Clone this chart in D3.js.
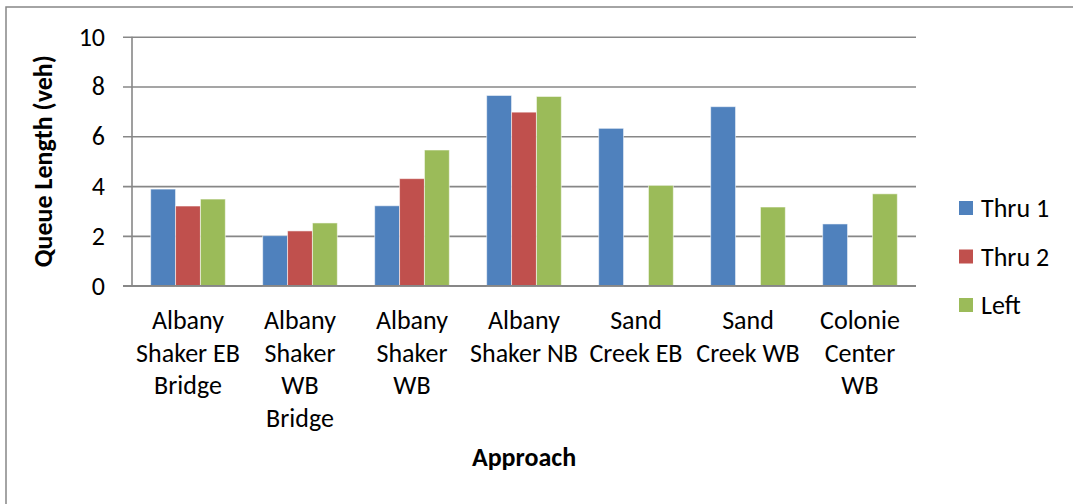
<!DOCTYPE html>
<html>
<head>
<meta charset="utf-8">
<script src="https://cdn.jsdelivr.net/npm/d3@7/dist/d3.min.js"></script>
<style>
  html, body { margin: 0; padding: 0; background: #fff; }
  svg { display: block; }
  text { font-family: Carlito, Calibri, Lato, sans-serif; fill: #000; }
</style>
</head>
<body>
<svg id="chart" width="1073" height="504"></svg>
<script>
// Queue length by approach and lane group
const approaches = [
  ["Albany", "Shaker EB", "Bridge"],
  ["Albany", "Shaker", "WB", "Bridge"],
  ["Albany", "Shaker", "WB"],
  ["Albany", "Shaker NB"],
  ["Sand", "Creek EB"],
  ["Sand", "Creek WB"],
  ["Colonie", "Center", "WB"]
];
const seriesNames = ["Thru 1", "Thru 2", "Left"];
const thru1 = [3.88, 2.01, 3.21, 7.64, 6.32, 7.19, 2.48];
const thru2 = [3.20, 2.20, 4.30, 6.97, null, null, null];
const left  = [3.48, 2.52, 5.45, 7.60, 4.03, 3.16, 3.69];
const seriesColors = ["#4f81bd", "#c0504d", "#9bbb59"];
const yTicks = [0, 2, 4, 6, 8, 10];

const series = [thru1, thru2, left];

const svg = d3.select("#chart");
const plot = { left: 132, right: 916, top: 36.7, bottom: 285.7 };
const gridColor = "#878787";
const fontSize = 26;

// outer chart frame
svg.append("rect")
  .attr("x", 6).attr("y", 7)
  .attr("width", 1200).attr("height", 700)
  .attr("fill", "none").attr("stroke", gridColor).attr("stroke-width", 1.5);

const x = d3.scaleBand()
  .domain(d3.range(approaches.length))
  .range([plot.left, plot.right])
  .paddingInner(0).paddingOuter(0);

const bandPad = x.bandwidth() * (1.5 / 4.5) / 2;
const xs = d3.scaleBand()
  .domain(d3.range(series.length))
  .range([bandPad, x.bandwidth() - bandPad]);

const y = d3.scaleLinear().domain([0, 10]).range([plot.bottom, plot.top]);

// horizontal gridlines with outside ticks
const yAxis = d3.axisLeft(y)
  .tickValues(yTicks)
  .tickSize(-(plot.right - plot.left))
  .tickSizeOuter(0)
  .tickPadding(27)
  .tickFormat(d3.format("d"));

const gy = svg.append("g")
  .attr("transform", `translate(${plot.left},0)`)
  .call(yAxis);
gy.select(".domain").remove();
gy.selectAll(".tick line")
  .attr("x1", -9)
  .attr("stroke", gridColor).attr("stroke-width", 1.6);
gy.selectAll(".tick text")
  .attr("font-size", fontSize)
  .attr("fill", "#000")
  .style("font-family", "Carlito, Calibri, Lato, sans-serif");

// vertical axis line
svg.append("line")
  .attr("x1", plot.left).attr("x2", plot.left)
  .attr("y1", plot.top).attr("y2", plot.bottom)
  .attr("stroke", gridColor).attr("stroke-width", 1.6);

// bars
series.forEach((vals, si) => {
  svg.append("g").selectAll("rect")
    .data(vals.map((v, i) => ({ v, i })).filter(d => d.v !== null))
    .join("rect")
    .attr("x", d => x(d.i) + xs(si))
    .attr("y", d => y(d.v))
    .attr("width", xs.bandwidth())
    .attr("height", d => y(0) - y(d.v))
    .attr("fill", seriesColors[si])
    .attr("stroke", "rgba(255,255,255,0.55)")
    .attr("stroke-width", 1);
});

// baseline drawn over the bars
svg.append("line")
  .attr("x1", plot.left - 9).attr("x2", plot.right)
  .attr("y1", y(0)).attr("y2", y(0))
  .attr("stroke", gridColor).attr("stroke-width", 1.6);

// category labels
const lineGap = 32.5;
const cat = svg.append("g").selectAll("text")
  .data(approaches)
  .join("text")
  .attr("text-anchor", "middle")
  .attr("font-size", fontSize);
cat.each(function(lines, i) {
  d3.select(this).selectAll("tspan")
    .data(lines)
    .join("tspan")
    .attr("x", x(i) + x.bandwidth() / 2)
    .attr("y", (d, k) => 329 + k * lineGap)
    .text(d => d);
});

// axis titles
svg.append("text")
  .attr("x", (plot.left + plot.right) / 2)
  .attr("y", 466)
  .attr("text-anchor", "middle")
  .attr("font-size", fontSize)
  .attr("font-weight", "bold")
  .text("Approach");

svg.append("text")
  .attr("transform", `translate(52,${(plot.top + plot.bottom) / 2}) rotate(-90)`)
  .attr("text-anchor", "middle")
  .attr("font-size", fontSize)
  .attr("font-weight", "bold")
  .text("Queue Length (veh)");

// legend
const legend = svg.append("g").selectAll("g")
  .data(seriesNames)
  .join("g")
  .attr("transform", (d, i) => `translate(959,${208 + i * 48.5})`);
legend.append("rect")
  .attr("x", 0).attr("y", -7)
  .attr("width", 14).attr("height", 14)
  .attr("fill", (d, i) => seriesColors[i]);
legend.append("text")
  .attr("x", 22).attr("y", 9)
  .attr("font-size", fontSize)
  .text(d => d);
</script>
</body>
</html>
